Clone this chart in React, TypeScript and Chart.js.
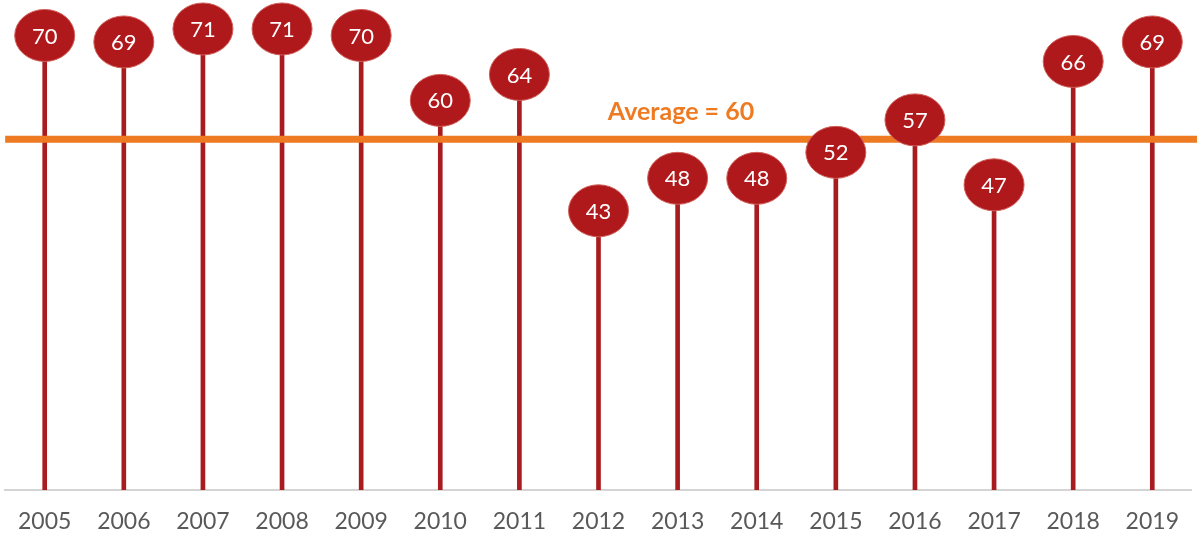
import React, { useEffect, useRef } from "react";
import { Chart, registerables } from "chart.js";

Chart.register(...registerables);

const years = ["2005", "2006", "2007", "2008", "2009", "2010", "2011", "2012", "2013", "2014", "2015", "2016", "2017", "2018", "2019"];
const values = [70, 69, 71, 71, 70, 60, 64, 43, 48, 48, 52, 57, 47, 66, 69];
const averageLabel = "Average = 60";
const averageLinePosition = 54; // where the orange line sits in the picture

const STEM = "#A81B1F";
const DOT = "#B0191C";
const ORANGE = "#EE7A22";

const lollipopPlugin = {
  id: "lollipop",
  afterDatasetsDraw(chart: any) {
    const { ctx, scales, chartArea } = chart;
    const y = scales.y.getPixelForValue(averageLinePosition);
    ctx.save();
    // average line
    ctx.strokeStyle = ORANGE;
    ctx.lineWidth = 7;
    ctx.beginPath();
    ctx.moveTo(chartArea.left, y);
    ctx.lineTo(chart.width, y);
    ctx.stroke();
    // label
    ctx.fillStyle = ORANGE;
    ctx.font = "bold 25px Lato";
    ctx.textAlign = "center";
    ctx.textBaseline = "middle";
    ctx.fillText(averageLabel, 681, y - 27);
    // dots
    const meta = chart.getDatasetMeta(0);
    meta.data.forEach((el: any, i: number) => {
      const cx = el.x;
      const cy = el.y;
      ctx.beginPath();
      ctx.ellipse(cx, cy, 30, 26, 0, 0, Math.PI * 2);
      ctx.fillStyle = DOT;
      ctx.fill();
      ctx.lineWidth = 1;
      ctx.strokeStyle = "#d0605a";
      ctx.stroke();
      ctx.fillStyle = "#ffffff";
      ctx.font = "22px Lato";
      ctx.textAlign = "center";
      ctx.textBaseline = "middle";
      ctx.fillText(String(values[i]), cx, cy + 1);
    });
    ctx.restore();
  },
};

export default function App() {
  const ref = useRef<HTMLCanvasElement>(null);
  useEffect(() => {
    if (!ref.current) return;
    const chart = new Chart(ref.current, {
      type: "bar",
      data: {
        labels: years,
        datasets: [
          {
            data: values,
            backgroundColor: STEM,
            barThickness: 4,
          },
        ],
      },
      options: {
        animation: false,
        responsive: false,
        maintainAspectRatio: false,
        layout: { padding: { top: 3, left: 5, right: 1, bottom: 0 } },
        plugins: { legend: { display: false }, tooltip: { enabled: false } },
        scales: {
          x: {
            grid: { display: false, drawTicks: false },
            border: { display: true, color: "#d4d4d4", width: 2 },
            ticks: { color: "#595959", font: { family: "Lato", size: 23 }, padding: 18 },
            afterFit: (s: any) => {
              s.height = 45;
            },
          },
          y: {
            display: false,
            min: 0,
            max: 75,
          },
        },
      },
      plugins: [lollipopPlugin],
    });
    return () => chart.destroy();
  }, []);
  return (
    <div style={{ position: "fixed", left: 0, top: 0, width: 1197, height: 535, background: "#fff" }}>
      <canvas ref={ref} width={1197} height={535} style={{ width: 1197, height: 535 }} />
    </div>
  );
}
